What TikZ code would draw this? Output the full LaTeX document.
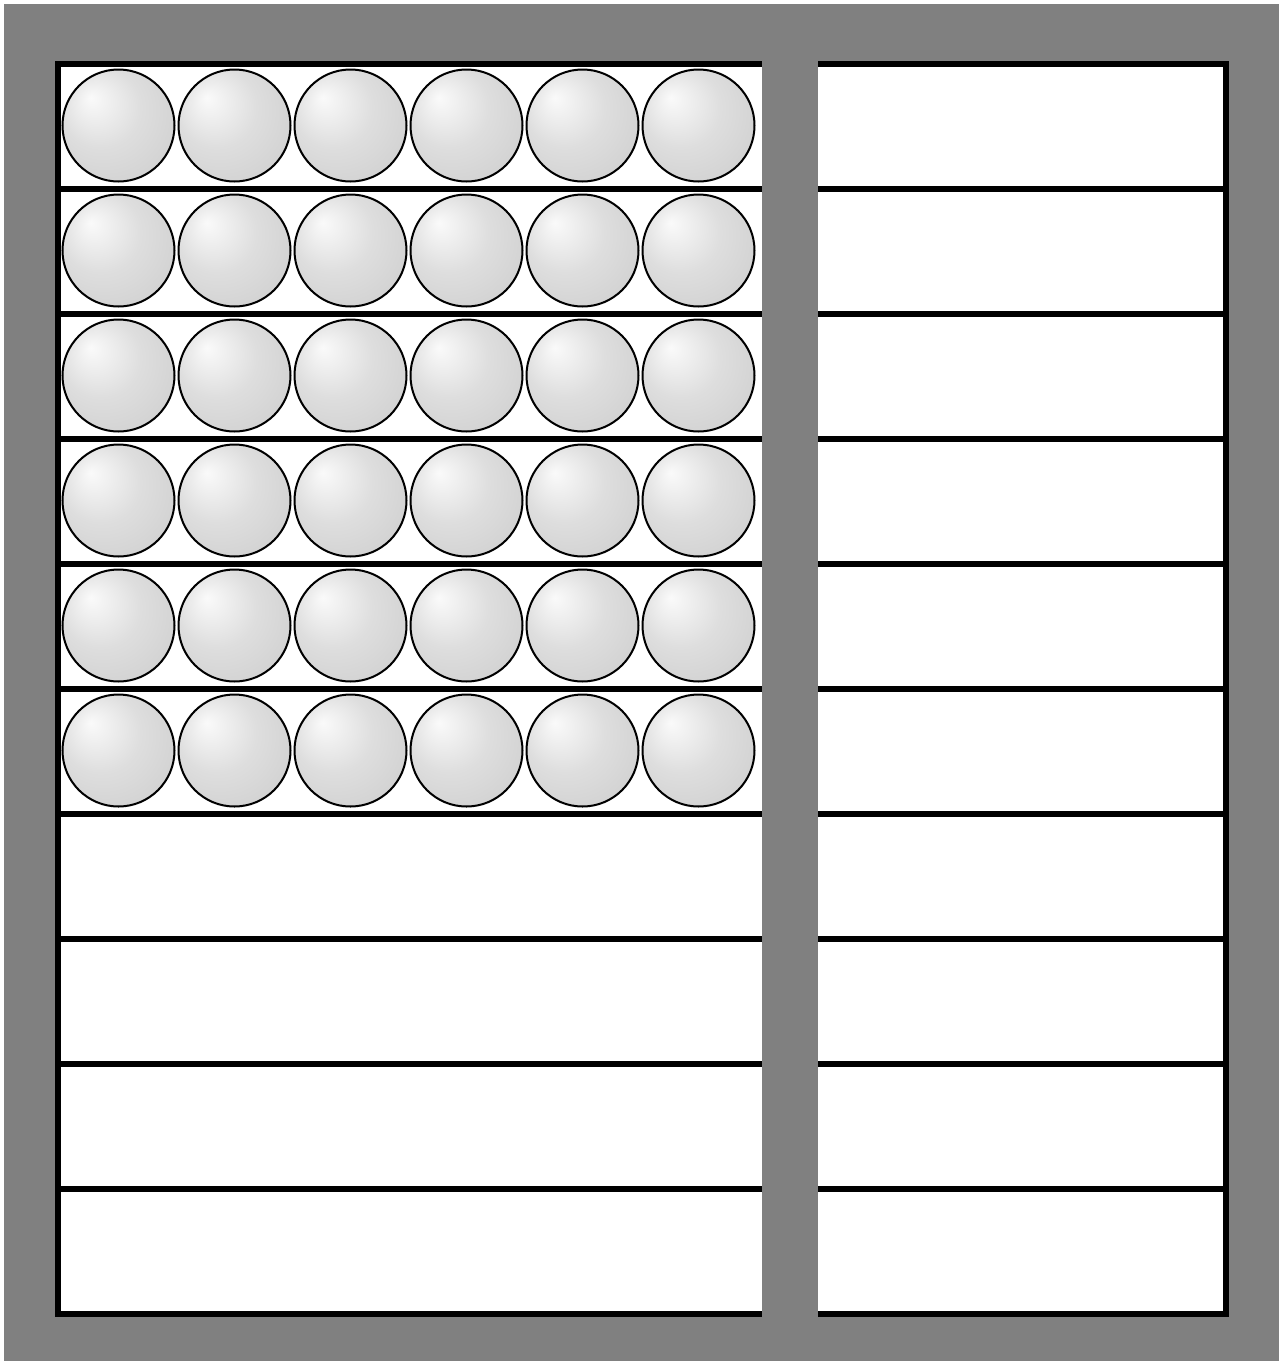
\documentclass[tikz,border=0pt]{standalone}
\pgfdeclareradialshading{myball}{\pgfpoint{-12.5bp}{12.5bp}}{color(0bp)=(gray!4); color(18bp)=(gray!26); color(43bp)=(gray!42); color(50bp)=(gray!42)}
\tikzset{
  ballnode/.style={circle, draw=black, line width=1pt, shading=myball, minimum size=56pt, inner sep=0pt},
  frameline/.style={draw=black, line width=3pt, line cap=rect},
}
\begin{document}
\begin{tikzpicture}[x=0.5pt,y=-0.5pt]
\useasboundingbox (0,0) rectangle (1281,1361);
% gray background
\fill[gray] (4,4) rectangle (1279,1361);
% white boxes and grid
\fill[white] (58,63.5) rectangle (1226,1313);
\foreach \k in {0,...,10} {
  \draw[frameline] (58,{63.5+125*\k}) -- (1226,{63.5+125*\k});
}
\draw[frameline] (58,63.5) -- (58,1313);
\draw[frameline] (1226,63.5) -- (1226,1313);
% gray middle strip
\fill[gray] (762,4) rectangle (818,1361);
% balls
\foreach \r in {0,...,5} {
  \foreach \c in {0,...,5} {
    \node[ballnode] (b-\r-\c) at ({118.5+116*\c},{125.5+125*\r}) {};
  }
}
\end{tikzpicture}
\end{document}
